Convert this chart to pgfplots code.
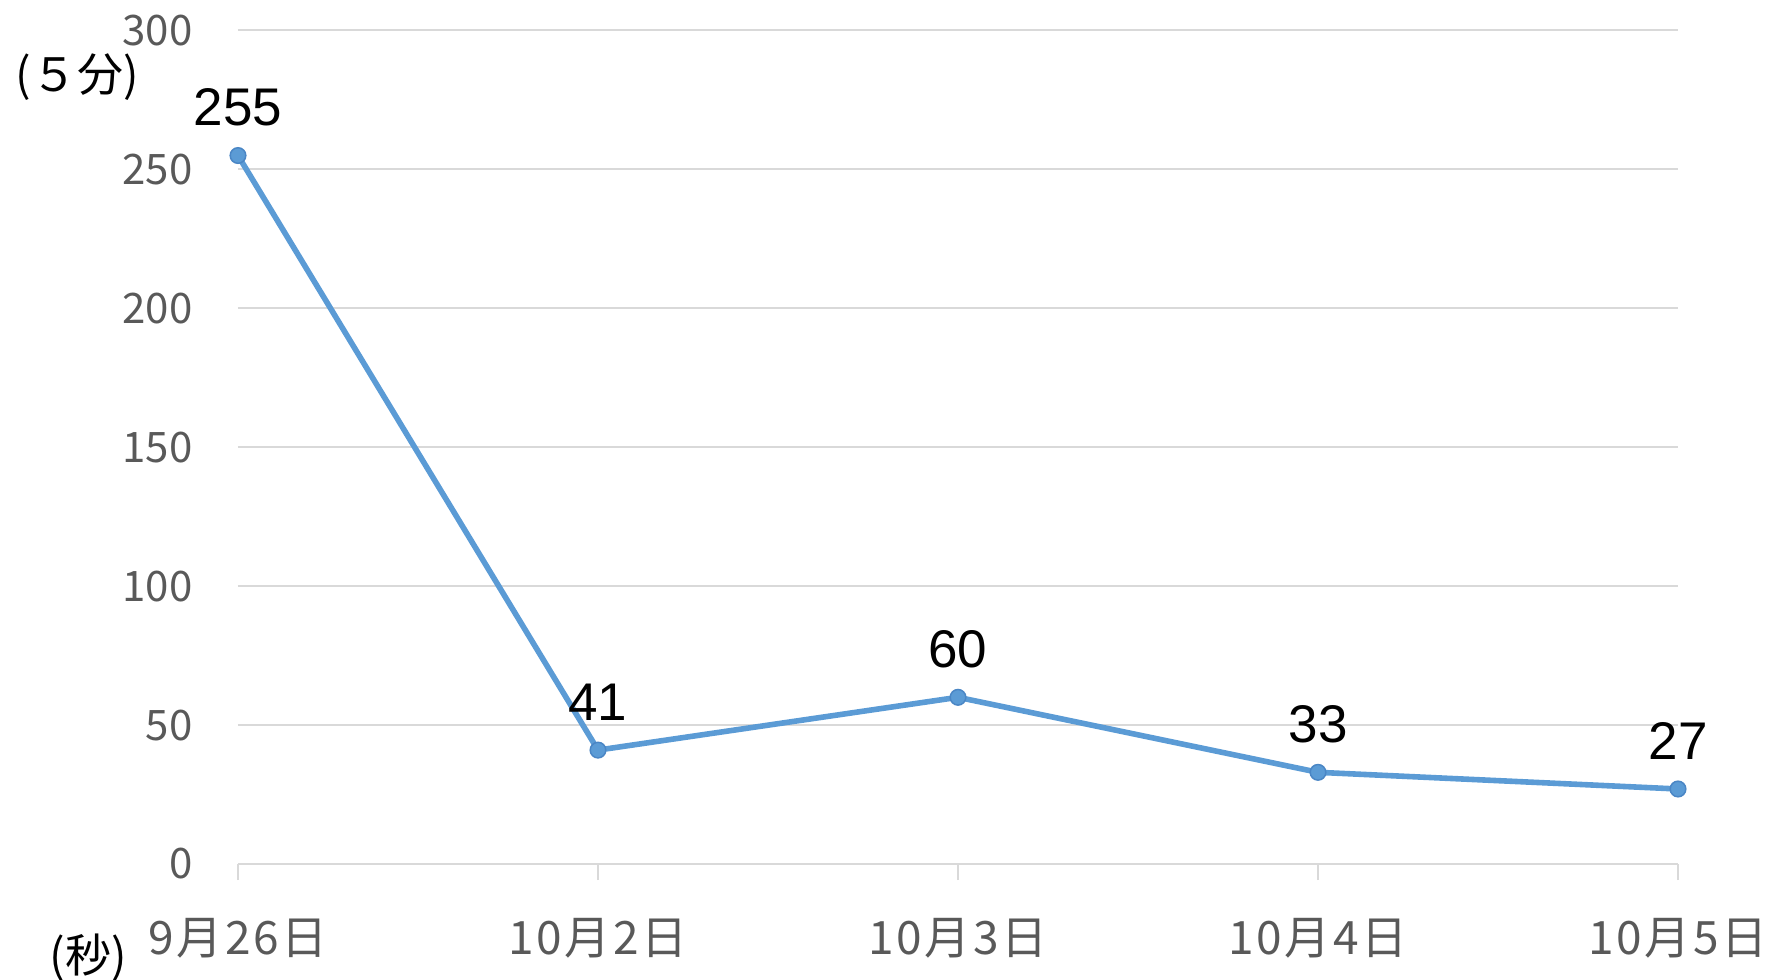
\documentclass[border=0pt]{standalone}
\usepackage{pgfplots}
\pgfplotsset{compat=1.18}
\usepackage{fontspec}
\setmainfont{Liberation Sans}
\newfontfamily\cjk{Noto Sans CJK JP}
\newfontfamily\cjkx[LetterSpace=6]{Noto Sans CJK JP}
\definecolor{txtgray}{HTML}{595959}
\definecolor{gridgray}{HTML}{D9D9D9}
\definecolor{lineblue}{HTML}{5B9BD5}
\definecolor{edgeblue}{HTML}{4A86C5}
\begin{document}
\begin{tikzpicture}
\begin{axis}[name=ax, scale only axis, width=720pt, height=416.75pt,
 xmin=0,xmax=4,ymin=0,ymax=300, clip=false,
 xtick={0,...,4}, xticklabels={9月26日,10月2日,10月3日,10月4日,10月5日},
 ytick={0,50,...,300},
 ymajorgrids, grid style={draw=gridgray, line width=1pt},
 axis lines*=left, y axis line style={draw=none}, x axis line style={draw=gridgray,line width=1pt,-},
 ytick style={draw=none}, xtick style={draw=gridgray,line width=1pt}, tick align=outside, major tick length=8pt,
 /pgf/number format/assume math mode=true,
 yticklabel style={font=\cjk\fontsize{21}{25}\selectfont, text=txtgray, anchor=east, inner sep=0pt, xshift=-14.5pt},
 xticklabel style={font=\cjkx\fontsize{23}{27}\selectfont, text=txtgray, anchor=base, inner sep=0pt, yshift=-37pt},
 nodes near coords, every node near coord/.append style={font=\fontsize{26.5}{30}\selectfont, text=black, anchor=south, inner sep=0pt, yshift=14.5pt},
]
\addplot[lineblue, line width=2.8pt, mark=*, mark size=3.9pt, mark options={fill=lineblue, draw=edgeblue, line width=0.75pt}] coordinates {(0,255)(1,41)(2,60)(3,33)(4,27)};
\node[font=\cjk\fontsize{23}{27}\selectfont] at (rel axis cs:-0.1118,0.944) {(５分)};
\node[font=\cjk\fontsize{23}{27}\selectfont] at (rel axis cs:-0.104,-0.1128) {(秒)};
\end{axis}
\pgfresetboundingbox
\path ([xshift=-119pt,yshift=-57.5pt]ax.south west) rectangle ([xshift=45.5pt,yshift=15.25pt]ax.north east);
\end{tikzpicture}
\end{document}
